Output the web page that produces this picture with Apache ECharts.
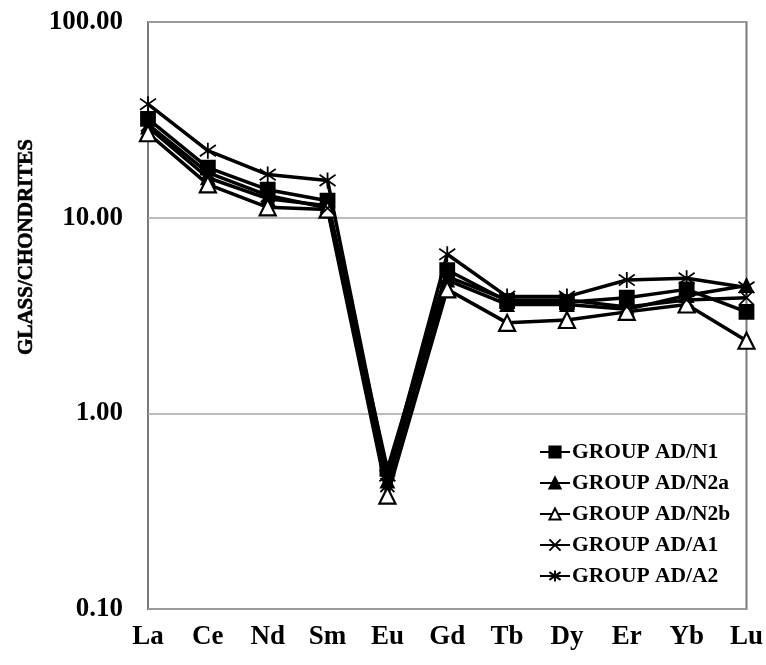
<!DOCTYPE html>
<html>
<head>
<meta charset="utf-8">
<script src="https://cdn.jsdelivr.net/npm/echarts@6/dist/echarts.min.js"></script>
<style>
html,body{margin:0;padding:0;background:#fff;}
#chart{width:766px;height:665px;}
</style>
</head>
<body>
<div id="chart"></div>
<script>
var categories = ['La','Ce','Nd','Sm','Eu','Gd','Tb','Dy','Er','Yb','Lu'];
var seriesNames = ['GROUP AD/N1','GROUP AD/N2a','GROUP AD/N2b','GROUP AD/A1','GROUP AD/A2'];
var groupN1  = [32, 18, 13.9, 12.2, 0.52, 5.4, 3.75, 3.7, 3.9, 4.3, 3.3];
var groupN2a = [29, 16, 12.5, 11.5, 0.45, 4.8, 3.6, 3.6, 3.4, 4.0, 4.5];
var groupN2b = [27, 14.8, 11.3, 11.0, 0.38, 4.3, 2.9, 3.0, 3.3, 3.6, 2.35];
var groupA1  = [30, 17, 13.0, 11.2, 0.43, 5.0, 3.8, 3.8, 3.5, 3.8, 3.9];
var groupA2  = [38, 22, 16.6, 15.5, 0.48, 6.5, 3.95, 3.95, 4.8, 4.9, 4.4];
var yTickLabels = ['0.10','1.00','10.00','100.00'];
var yTitle = 'GLASS/CHONDRITES';

var FONT = 'Liberation Serif, "Times New Roman", serif';
var crossPath = 'path://M0,0L10,10M10,0L0,10';
var starPath = 'path://M5,0L5,10M0,1.5L10,8.5M10,1.5L0,8.5';

function mk(name, data, symbol, size, fill) {
  return {
    name: name, type: 'line', data: data,
    symbol: symbol, symbolSize: size,
    lineStyle: {color: '#000', width: 3.5},
    itemStyle: {color: fill, borderColor: '#000', borderWidth: (fill === '#fff' ? 2.2 : 1.8)},
    emphasis: {disabled: true},
    animation: false
  };
}

var chart = echarts.init(document.getElementById('chart'));
chart.setOption({
  animation: false,
  backgroundColor: '#fff',
  grid: {left: 148, right: 18, top: 22, bottom: 56, show: true, borderColor: '#7a7a7a', borderWidth: 2},
  legend: {
    orient: 'vertical', left: 534, top: 436,
    itemWidth: 30, itemHeight: 14, itemGap: 9,
    textStyle: {fontFamily: FONT, fontWeight: 'bold', fontSize: 21.5, color: '#000', padding: [0,0,0,-3]},
    data: seriesNames
  },
  xAxis: {
    type: 'category', data: categories, boundaryGap: false,
    axisLine: {show: false}, axisTick: {show: false}, splitLine: {show: false},
    axisLabel: {fontFamily: FONT, fontWeight: 'bold', fontSize: 27, color: '#000', margin: 15}
  },
  yAxis: {
    type: 'log', logBase: 10, min: 0.1, max: 100,
    axisLine: {show: false}, axisTick: {show: false},
    splitLine: {show: true, lineStyle: {color: '#a6a6a6', width: 1.5}},
    axisLabel: {
      fontFamily: FONT, fontWeight: 'bold', fontSize: 27, color: '#000', margin: 25,
      formatter: function (v) {
        var idx = Math.round(Math.log10(v)) + 1;
        return yTickLabels[idx];
      }
    }
  },
  graphic: [{
    type: 'text', x: 27, y: 247, rotation: Math.PI / 2,
    style: {text: yTitle, font: 'bold 21px ' + FONT, fill: '#000', align: 'center', verticalAlign: 'middle', stroke: '#000', lineWidth: 0.6}
  }],
  series: [
    mk(seriesNames[0], groupN1, 'rect', 14, '#000'),
    mk(seriesNames[1], groupN2a, 'triangle', 13, '#000'),
    mk(seriesNames[2], groupN2b, 'triangle', 16, '#fff'),
    mk(seriesNames[3], groupA1, crossPath, 14, '#000'),
    mk(seriesNames[4], groupA2, starPath, 16, '#000')
  ]
});
</script>
</body>
</html>
